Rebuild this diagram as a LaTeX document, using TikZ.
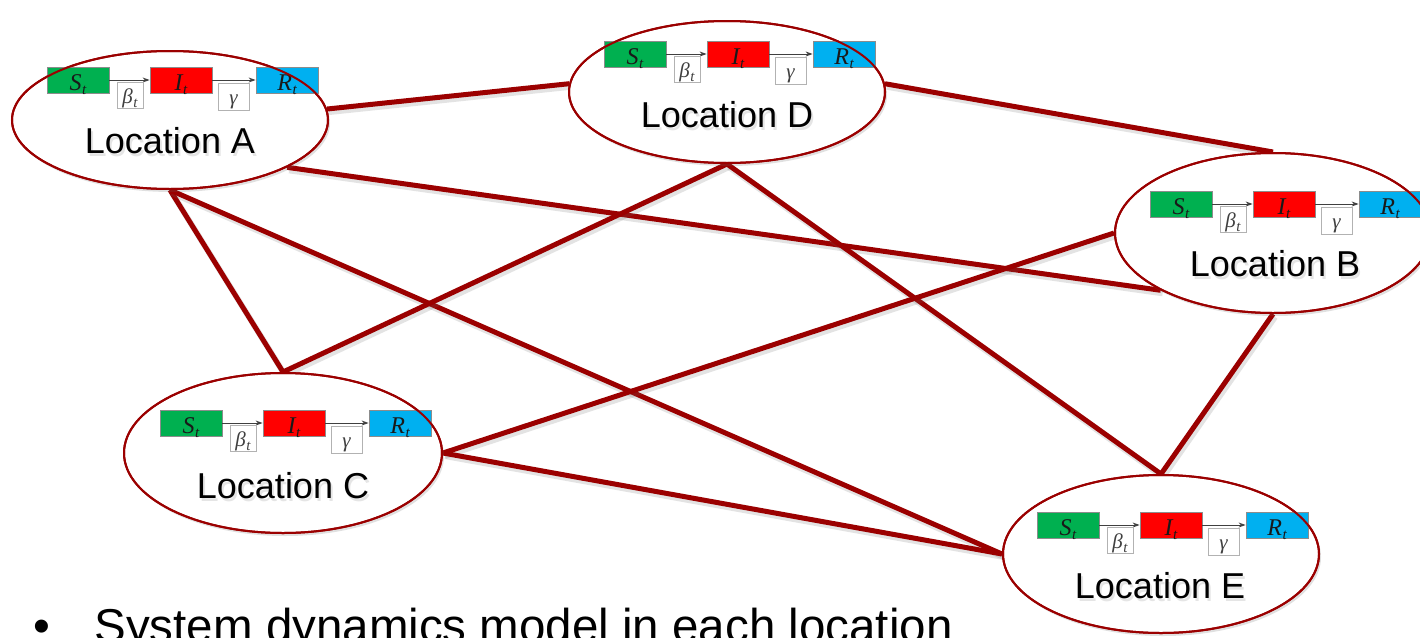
\documentclass[tikz,border=0pt]{standalone}
\usepackage{fontspec}
\setmainfont{Liberation Sans}
\newfontfamily\symbolfont{Liberation Serif}
\usetikzlibrary{shapes.geometric,arrows.meta,shadows}
\pgfdeclarelayer{edges}
\pgfsetlayers{edges,main}
\definecolor{linkred}{RGB}{155,0,0}
\definecolor{sgreen}{RGB}{0,176,80}
\definecolor{ired}{RGB}{255,0,0}
\definecolor{rblue}{RGB}{0,176,240}

\tikzset{
  loc/.style={ellipse, fill=white, draw=linkred, line width=2pt, inner sep=0pt,
    drop shadow={shadow xshift=2pt, shadow yshift=-3pt, opacity=0.2, fill=black!60}},
  rim/.style={draw=linkred, line width=2pt},
  link/.style={draw=linkred, line width=5pt},
  linkshade/.style={draw=black!60, opacity=0.18, line width=6pt},
  stock/.style={minimum width=62pt, minimum height=26pt, inner sep=0pt,
    text height=22pt, text depth=2pt,
    draw=black!45, line width=0.8pt, text=black!90,
    font=\symbolfont\itshape\fontsize{24}{24}\selectfont},
  rate/.style={draw=black!30, fill=white, line width=0.8pt, inner sep=0pt,
    text height=18pt, text depth=2pt,
    text=black!75, font=\symbolfont\itshape\fontsize{21}{21}\selectfont},
  flow/.style={draw=black!75, line width=1pt, -{Stealth[length=7pt,width=5pt]}},
  lbl/.style={anchor=base, font=\fontsize{36}{36}\selectfont},
  lblshade/.style={lbl, text=black, opacity=0.1},
}

% italic symbol with a lowered t
\newcommand{\withsub}[1]{#1\kern0.5pt\raisebox{-4pt}{\fontsize{15}{15}\selectfont t}}

% one S -> I -> R chain: #1 name prefix, #2 left edge of S, #3 middle of the row
\newcommand{\sirrow}[3]{%
  \node[stock, fill=sgreen] (#1S) at ({#2+31},#3) {\withsub{S}};
  \node[stock, fill=ired]   (#1I) at ({#2+134},#3) {\withsub{I}};
  \node[stock, fill=rblue]  (#1R) at ({#2+240},#3) {\withsub{R}};
  \draw[flow] (#1S.east) -- (#1I.west);
  \draw[flow] (#1I.east) -- (#1R.west);
  \node[rate, minimum width=26pt, minimum height=26pt] (#1b) at ({#2+83},{#3+15}) {\withsub{β}};
  \node[rate, minimum width=31pt, minimum height=27pt] (#1g) at ({#2+186.5},{#3+16.5}) {γ};
}

\begin{document}
\begin{tikzpicture}[x=1pt, y=-1pt]
\useasboundingbox (0,0) rectangle (1420,637);

% locations
\node[loc, minimum width=316pt, minimum height=138pt] (A) at (170,120) {};
\node[loc, minimum width=316pt, minimum height=142pt] (D) at (727,92) {};
\node[loc, minimum width=316pt, minimum height=160pt] (B) at (1273,233) {};
\node[loc, minimum width=318pt, minimum height=160pt] (C) at (283,453) {};
\node[loc, minimum width=316pt, minimum height=158pt] (E) at (1161,554) {};

% compartment chains
\sirrow{a}{47}{80}
\sirrow{d}{604}{54}
\sirrow{b}{1150}{204}
\sirrow{c}{160}{423}
\sirrow{e}{1037}{525}

% rims drawn again over the chains
\draw[rim] (A.center) ellipse [x radius=158pt, y radius=69pt];
\draw[rim] (D.center) ellipse [x radius=158pt, y radius=71pt];
\draw[rim] (B.center) ellipse [x radius=158pt, y radius=80pt];
\draw[rim] (C.center) ellipse [x radius=159pt, y radius=80pt];
\draw[rim] (E.center) ellipse [x radius=158pt, y radius=79pt];

% location names
\node[lblshade] (labAs) at (172,156) {Location A};
\node[lbl] (labA) at (170,153) {Location A};
\node[lblshade] (labDs) at (729,130) {Location D};
\node[lbl] (labD) at (727,127) {Location D};
\node[lblshade] (labBs) at (1277,279) {Location B};
\node[lbl] (labB) at (1275,276) {Location B};
\node[lblshade] (labCs) at (285,501) {Location C};
\node[lbl] (labC) at (283,498) {Location C};
\node[lblshade] (labEs) at (1162,601) {Location E};
\node[lbl] (labE) at (1160,598) {Location E};

% links between locations
\begin{pgfonlayer}{edges}
\fill[white] (0,0) rectangle (1420,637);
\foreach \p/\q in {A.4/D.177, D.3/B.north, A.-22/B.-153, A.south/C.north,
                   A.south/E.west, D.south/C.north, D.south/E.north,
                   C.east/B.west, C.east/E.west, B.south/E.north}{
  \draw[linkshade, transform canvas={shift={(2pt,-3pt)}}] (\p) -- (\q);
  \draw[link] (\p) -- (\q);
}
\end{pgfonlayer}

% caption line
\node[anchor=base west, font=\fontsize{48}{48}\selectfont] (bullet) at (30,642) {•};
\node[anchor=base west, font=\fontsize{47.5}{48}\selectfont] (note) at (91,642) {System dynamics model in each location};
\end{tikzpicture}
\end{document}
